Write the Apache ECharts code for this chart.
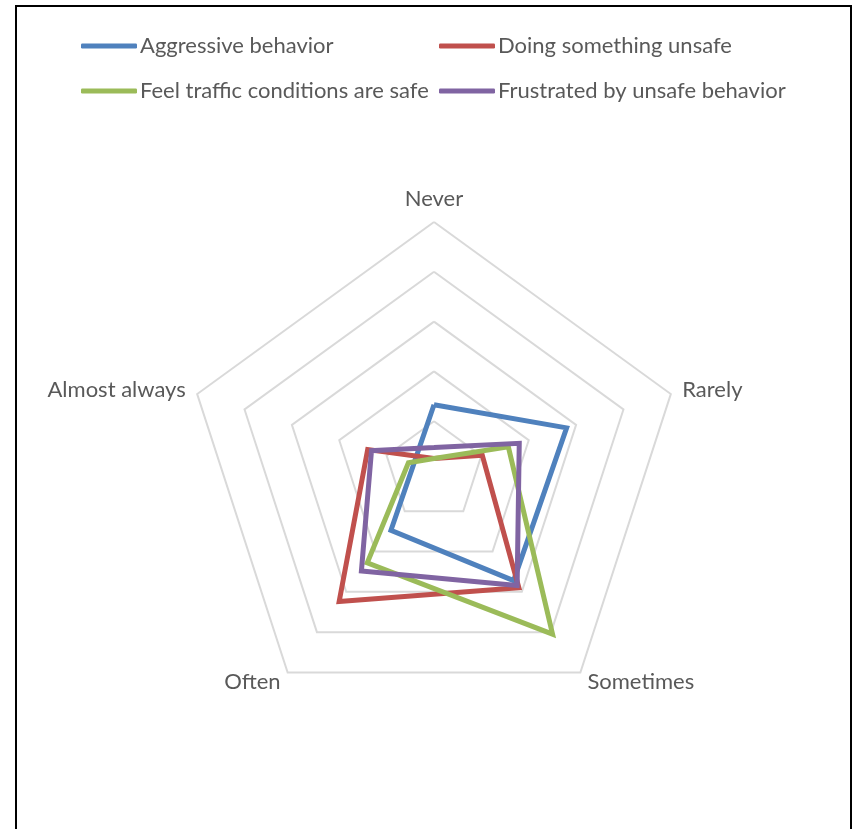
<!DOCTYPE html>
<html>
<head>
<meta charset="utf-8">
<script src="https://cdn.jsdelivr.net/npm/echarts@6/dist/echarts.min.js"></script>
<style>
html,body{margin:0;padding:0;background:#fff;}
#chart{width:854px;height:829px;}
</style>
</head>
<body>
<div id="chart"></div>
<script>
// Data, in clockwise order starting at the top
var categories = ['Never', 'Rarely', 'Sometimes', 'Often', 'Almost always'];
var seriesNames = ['Aggressive behavior', 'Doing something unsafe', 'Feel traffic conditions are safe', 'Frustrated by unsafe behavior'];
var aggressive = [13.3, 28, 27.2, 14.7, 4.3];
var unsafe = [2.5, 10.2, 29, 32.4, 14];
var feelSafe = [2.5, 15.7, 40.5, 22.8, 5.4];
var frustrated = [4.7, 18, 28.4, 24.8, 13.2];
var axisMax = 50;

var colors = ['#4F81BD', '#C0504D', '#9BBB59', '#8064A2'];
var FONT = 'Lato';
var TEXT = '#595959';

// ECharts radar lays indicators counter-clockwise; reorder so they run clockwise
var order = [0, 4, 3, 2, 1];
function reorder(arr) { return order.map(function (i) { return arr[i]; }); }

var chart = echarts.init(document.getElementById('chart'), null, {renderer: 'canvas'});

function legendAt(left, top, name) {
  return {
    left: left, top: top, padding: 0,
    data: [name],
    icon: 'roundRect',
    itemWidth: 56, itemHeight: 5, itemGap: 0,
    textStyle: {color: TEXT, fontFamily: FONT, fontSize: 22, lineHeight: 24, padding: [0, 0, 0, -2]}
  };
}

var allValues = [aggressive, unsafe, feelSafe, frustrated];

var option = {
  backgroundColor: '#fff',
  animation: false,
  color: colors,
  legend: [
    legendAt(81, 34, seriesNames[0]),
    legendAt(439, 34, seriesNames[1]),
    legendAt(81, 79, seriesNames[2]),
    legendAt(439, 79, seriesNames[3])
  ],
  radar: {
    center: [434, 471],
    radius: 249,
    startAngle: 90,
    splitNumber: 5,
    shape: 'polygon',
    nameGap: 12,
    indicator: reorder(categories).map(function (c) { return {name: c, min: 0, max: axisMax}; }),
    axisName: {color: TEXT, fontFamily: FONT, fontSize: 22},
    axisLine: {show: false},
    axisTick: {show: false},
    axisLabel: {show: false},
    splitArea: {show: false},
    splitLine: {lineStyle: {color: '#D9D9D9', width: 2}}
  },
  graphic: [{
    type: 'rect',
    shape: {x: 16, y: 6, width: 835, height: 840},
    style: {fill: 'none', stroke: '#000', lineWidth: 2},
    silent: true
  }],
  series: [{
    type: 'radar',
    symbol: 'none',
    data: allValues.map(function (vals, i) {
      return {
        name: seriesNames[i],
        value: reorder(vals),
        lineStyle: {color: colors[i], width: 5, join: 'miter'},
        itemStyle: {color: colors[i]}
      };
    })
  }]
};
chart.setOption(option);
</script>
</body>
</html>
